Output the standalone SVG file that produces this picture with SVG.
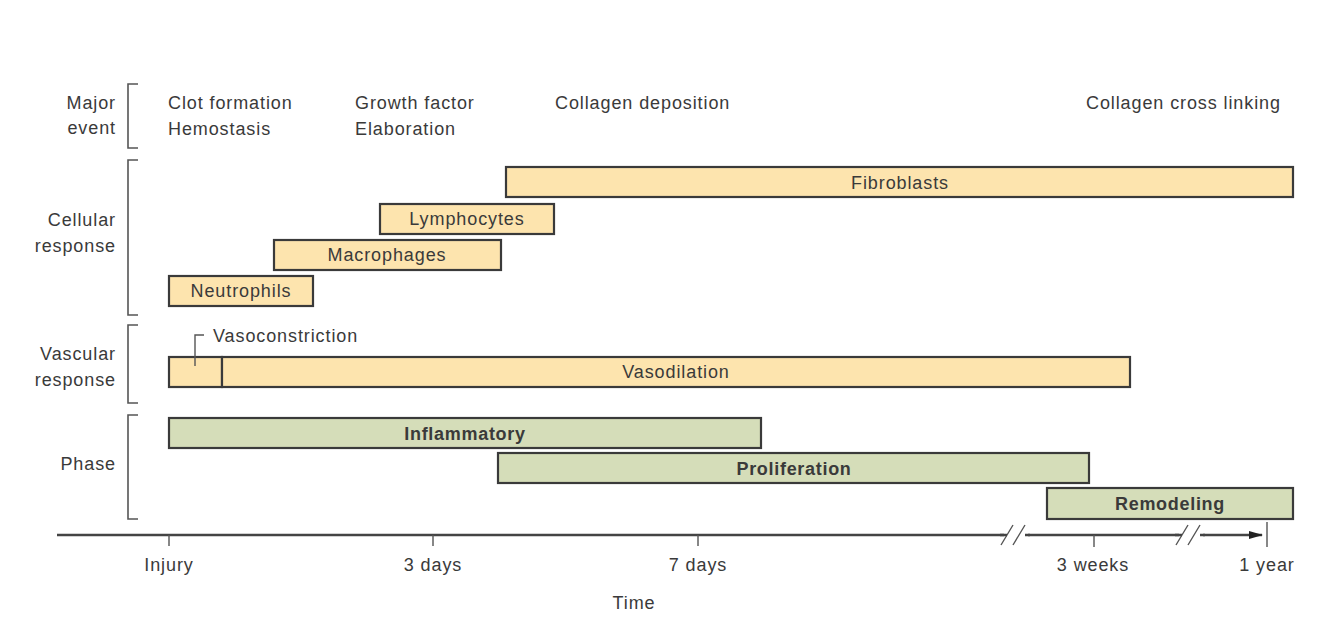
<svg xmlns="http://www.w3.org/2000/svg" width="1334" height="634" viewBox="0 0 1334 634">
<style>
text{font-family:"Liberation Sans",Arial,sans-serif;font-size:18px;letter-spacing:0.9px;fill:#3a3a3a}
.r{text-anchor:end}
.m{text-anchor:middle}
.b{font-weight:bold;letter-spacing:0.7px}
.cell{fill:#fde4ae;stroke:#3a3a3a;stroke-width:2.2}
.ph{fill:#d5ddb9;stroke:#3a3a3a;stroke-width:2.2}
.br{fill:none;stroke:#555;stroke-width:1.6}
.ax{fill:none;stroke:#444;stroke-width:2.5}
.tk{stroke:#555;stroke-width:1.4}
</style>
<defs>
<marker id="ah" markerWidth="14" markerHeight="10" refX="13" refY="5" orient="auto" markerUnits="userSpaceOnUse">
<path d="M0,1 L14,5 L0,9 z" fill="#222"/>
</marker>
</defs>
<rect width="1334" height="634" fill="#fff"/>
<g id="labels">
<text class="r" x="116" y="109">Major</text>
<text class="r" x="116" y="134">event</text>
<text class="r" x="116" y="226">Cellular</text>
<text class="r" x="116" y="252">response</text>
<text class="r" x="116" y="360">Vascular</text>
<text class="r" x="116" y="386">response</text>
<text class="r" x="116" y="470">Phase</text>
</g>
<g id="brackets">
<path class="br" d="M138,84 H128 V148 H138"/>
<path class="br" d="M138,160 H128 V315 H138"/>
<path class="br" d="M138,325 H128 V403 H138"/>
<path class="br" d="M138,415 H128 V519 H138"/>
</g>
<g id="events">
<text x="168" y="109">Clot formation</text>
<text x="168" y="135">Hemostasis</text>
<text x="355" y="109">Growth factor</text>
<text x="355" y="135">Elaboration</text>
<text x="555" y="109">Collagen deposition</text>
<text x="1086" y="109">Collagen cross linking</text>
</g>
<g id="fibroblasts"><rect class="cell" x="506" y="167" width="787" height="30"/><text class="m" x="900" y="189">Fibroblasts</text></g>
<g id="lymphocytes"><rect class="cell" x="380" y="204" width="174" height="30"/><text class="m" x="467" y="225">Lymphocytes</text></g>
<g id="macrophages"><rect class="cell" x="274" y="240" width="227" height="30"/><text class="m" x="387" y="261">Macrophages</text></g>
<g id="neutrophils"><rect class="cell" x="169" y="276" width="144" height="30"/><text class="m" x="241" y="297">Neutrophils</text></g>
<g id="vasoconstriction"><rect class="cell" x="169" y="357" width="53" height="30"/><path class="tk" fill="none" d="M195,366 V335 H204"/><text x="213" y="342">Vasoconstriction</text></g>
<g id="vasodilation"><rect class="cell" x="222" y="357" width="908" height="30"/><text class="m" x="676" y="378">Vasodilation</text></g>
<g id="inflammatory"><rect class="ph" x="169" y="418" width="592" height="30"/><text class="m b" x="465" y="440">Inflammatory</text></g>
<g id="proliferation"><rect class="ph" x="498" y="453" width="591" height="30"/><text class="m b" x="794" y="475">Proliferation</text></g>
<g id="remodeling"><rect class="ph" x="1047" y="488" width="246" height="31"/><text class="m b" x="1170" y="510">Remodeling</text></g>
<g id="connectors">
<path class="ax" d="M57,535 H1262" marker-end="url(#ah)"/>
<rect x="1004" y="528" width="24" height="14" fill="#fff"/>
<rect x="1179" y="528" width="24" height="14" fill="#fff"/>
<path class="tk" stroke-width="1.8" d="M1001,545 L1013,525 M1013,545 L1025,525 M1176,545 L1188,525 M1188,545 L1200,525"/>
<path class="ax" d="M1000,535 H1007 M1025,535 H1030 M1175,535 H1182 M1200,535 H1205"/>
<path class="tk" d="M169,535 V546 M433,535 V546 M698,535 V546 M1094,535 V547 M1267,522 V547"/>
</g>
<g id="axis-labels">
<text class="m" x="169" y="571">Injury</text>
<text class="m" x="433" y="571">3 days</text>
<text class="m" x="698" y="571">7 days</text>
<text class="m" x="1093" y="571">3 weeks</text>
<text class="m" x="1267" y="571">1 year</text>
<text class="m" x="634" y="609">Time</text>
</g>
</svg>
